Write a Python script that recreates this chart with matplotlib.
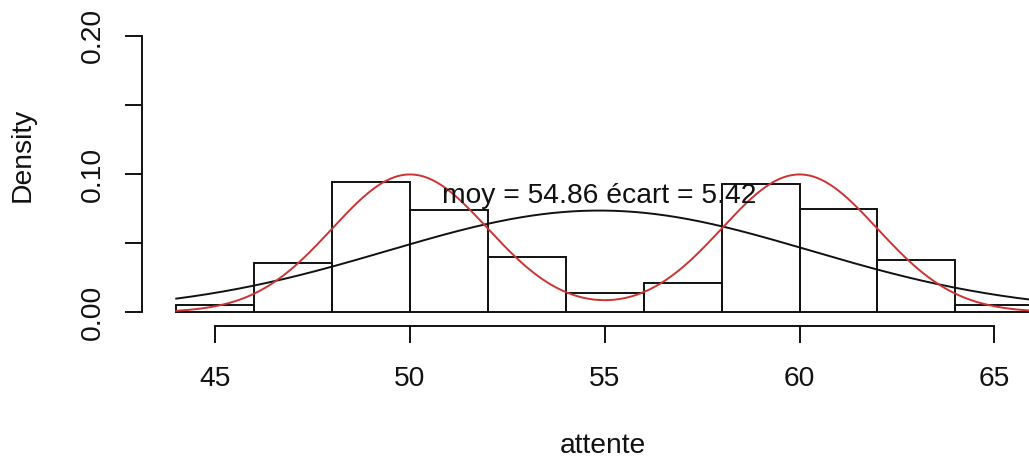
import numpy as np
import matplotlib
matplotlib.use("Agg")
import matplotlib.pyplot as plt

plt.rcParams['font.family'] = ['Liberation Sans', 'DejaVu Sans']

# ---- data ----
bin_edges = [44, 46, 48, 50, 52, 54, 56, 58, 60, 62, 64, 66]
densities = [0.005, 0.036, 0.094, 0.074, 0.040, 0.014, 0.021, 0.093, 0.075, 0.038, 0.005]
moy = 54.86
ecart = 5.42
mix_means = [50, 60]
mix_sd = 2.0
mix_weights = [0.5, 0.5]
x_ticks = [45, 50, 55, 60, 65]
y_ticks = [0.00, 0.05, 0.10, 0.15, 0.20]
y_ticklabels = ["0.00", "", "0.10", "", "0.20"]


def dnorm(x, m, s):
    return np.exp(-0.5 * ((x - m) / s) ** 2) / (s * np.sqrt(2 * np.pi))


W, H = 1029, 462
fig = plt.figure(figsize=(W / 100, H / 100), dpi=100)

# plot region in pixels
left_px, right_px = 142.0, 1067.5
bottom_px, top_px = 325.7, 24.8
ax = fig.add_axes([left_px / W, 1 - bottom_px / H,
                   (right_px - left_px) / W, (bottom_px - top_px) / H])

xmin, xmax = 43.12, 66.88
ymin, ymax = -0.0097, 0.208
ax.set_xlim(xmin, xmax)
ax.set_ylim(ymin, ymax)

lw = 1.4
# histogram
lefts = bin_edges[:-1]
widths = np.diff(bin_edges)
ax.bar(lefts, densities, width=widths, align='edge', facecolor='none',
       edgecolor='#111111', linewidth=lw, zorder=2)

# curves
xs = np.linspace(bin_edges[0], bin_edges[-1], 500)
ax.plot(xs, dnorm(xs, moy, ecart), color='#111111', linewidth=lw, zorder=3)
mix = sum(w * dnorm(xs, m, mix_sd) for w, m in zip(mix_weights, mix_means))
ax.plot(xs, mix, color='#cc3333', linewidth=lw, zorder=4)

ax.text(moy, 0.079, f"moy = {moy:.2f} écart = {ecart:.2f}", ha='center',
        va='baseline', fontsize=20.3, color='#111111', zorder=5)

# axes styling (R-like)
for s in ['top', 'right']:
    ax.spines[s].set_visible(False)
ax.spines['left'].set_bounds(y_ticks[0], y_ticks[-1])
ax.spines['bottom'].set_bounds(x_ticks[0], x_ticks[-1])
ax.spines['left'].set_linewidth(lw)
ax.spines['bottom'].set_linewidth(lw)
ax.spines['left'].set_color('#111111')
ax.spines['bottom'].set_color('#111111')

ax.set_xticks(x_ticks)
ax.set_xticklabels([str(t) for t in x_ticks], fontsize=20.3, color='#111111')
ax.set_yticks(y_ticks)
ax.set_yticklabels(y_ticklabels, fontsize=20.3, rotation=90, va='center',
                   color='#111111')
ax.tick_params(axis='both', direction='out', length=12, width=lw,
               color='#111111')
ax.tick_params(axis='x', pad=17)
ax.tick_params(axis='y', pad=14)

fig.text(23 / W, 1 - 155 / H, "Density", rotation=90, ha='center',
         va='center', fontsize=20.3, color='#111111')
fig.text(603 / W, 1 - 446 / H, "attente", ha='center', va='center',
         fontsize=20.3, color='#111111')

fig.savefig("out.png", dpi=100)
